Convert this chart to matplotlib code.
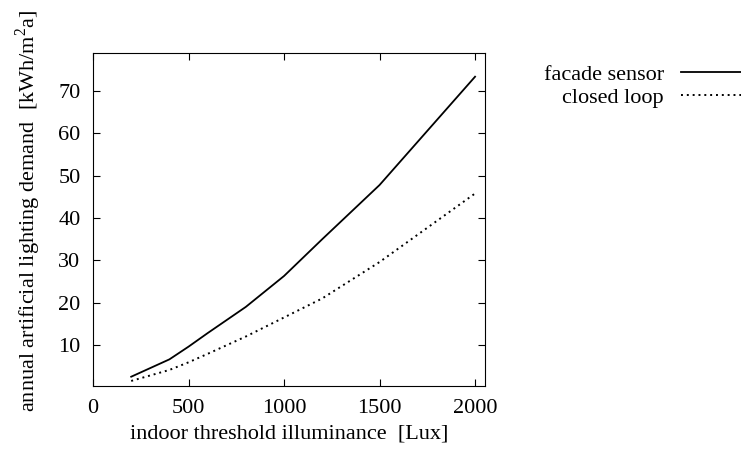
import numpy as np
import matplotlib.pyplot as plt
from matplotlib.ticker import FixedLocator

plt.rcParams['font.family'] = ['Liberation Serif', 'DejaVu Serif']
plt.rcParams['mathtext.fontset'] = 'custom'
plt.rcParams['mathtext.rm'] = 'Liberation Serif'

# data
illuminance = [200, 400, 500, 600, 800, 1000, 1200, 1500, 2000]
facade_sensor = [2.5, 6.6, 9.6, 12.8, 19.0, 26.3, 35.0, 47.8, 73.4]
closed_loop = [1.5, 4.1, 5.9, 7.9, 12.0, 16.5, 21.0, 29.6, 45.8]

xticks = [0, 500, 1000, 1500, 2000]
yticks = [10, 20, 30, 40, 50, 60, 70]

fs = 16

fig = plt.figure(figsize=(7.41, 4.59), dpi=100)
ax = fig.add_axes([0.1255, 0.159, 0.529, 0.7255])

ax.plot(illuminance, facade_sensor, color='black', lw=1.3, label='facade sensor')
ax.plot(illuminance, closed_loop, color='black', lw=1.4, linestyle=(0, (1, 2)),
        label='closed loop')

ax.set_xlim(0, 2052)
ax.set_ylim(0.3, 79)
ax.xaxis.set_major_locator(FixedLocator(xticks))
ax.yaxis.set_major_locator(FixedLocator(yticks))
ax.tick_params(direction='in', length=5, width=0.8, top=True, right=True,
               labelsize=fs, pad=9)
for s in ax.spines.values():
    s.set_linewidth(0.8)

ax.set_xlabel('indoor threshold illuminance  [Lux]', fontsize=fs, labelpad=5)
ax.set_ylabel('annual artificial lighting demand  [kWh/m$^2$a]', fontsize=fs)
ax.yaxis.set_label_coords(-0.127, 0.525)

leg = ax.legend(loc='upper right', bbox_to_anchor=(1.0, 0.859), bbox_transform=fig.transFigure,
                frameon=False, markerfirst=False, fontsize=fs, handlelength=2.7,
                handletextpad=0.77, labelspacing=0.1, borderaxespad=0, borderpad=0)

fig.savefig('out.png', dpi=100)
